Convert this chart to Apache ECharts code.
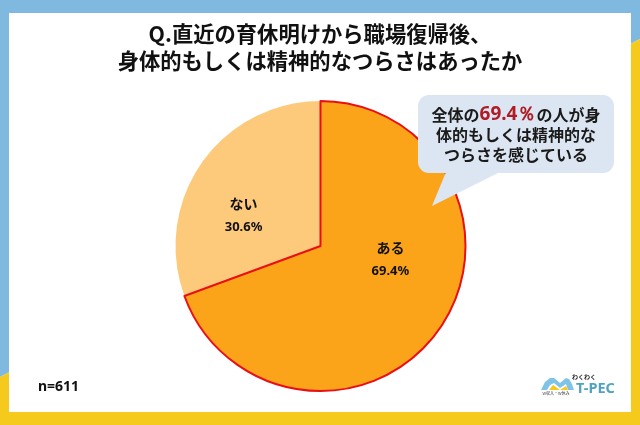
<!DOCTYPE html>
<html>
<head>
<meta charset="utf-8">
<style>html,body{margin:0;padding:0;background:#fff}#main{width:640px;height:425px}</style>
<script src="https://cdn.jsdelivr.net/npm/echarts@6/dist/echarts.min.js"></script>
</head>
<body>
<div id="main"></div>
<script>
// ない is listed first so the red outline of ある stays on top
var categories = ['ない', 'ある'];
var values = [30.6, 69.4];
var sliceColors = ['#FDC97A', '#FBA41A'];
var titleText = 'Q.直近の育休明けから職場復帰後、\n身体的もしくは精神的なつらさはあったか';

var jpFont = '"Noto Sans CJK JP", sans-serif';
var myChart = echarts.init(document.getElementById('main'));

var option = {
    animation: false,
    backgroundColor: '#fff',
    graphic: [
        // frame
        {type: 'polygon', z: 0, shape: {points: [[0, 0], [640, 0], [640, 39], [0, 377]]}, style: {fill: '#7FB9E0'}},
        {type: 'polygon', z: 0, shape: {points: [[640, 39], [640, 425], [0, 425], [0, 377]]}, style: {fill: '#F5CA1C'}},
        {type: 'rect', z: 1, shape: {x: 9, y: 13, width: 622, height: 399}, style: {fill: '#fff'}},
        // callout
        {type: 'rect', z: 10, shape: {x: 418, y: 95, width: 196, height: 78, r: 11}, style: {fill: '#DCE6F2'}},
        {type: 'polygon', z: 10, shape: {points: [[446, 172], [432, 206], [500, 172]]}, style: {fill: '#DCE6F2'}},
        {type: 'text', z: 11, style: {
            x: 516, y: 115, align: 'center', verticalAlign: 'middle',
            text: '{b|全体の}{r|69.4％}{b|の人が身}',
            rich: {
                b: {font: 'bold 16px ' + jpFont, fill: '#1a1a1a'},
                r: {font: 'bold 19px "Noto Sans", sans-serif', fill: '#B01C26'}
            }
        }},
        {type: 'text', z: 11, style: {x: 516, y: 135, align: 'center', verticalAlign: 'middle', text: '体的もしくは精神的な', font: 'bold 16px ' + jpFont, fill: '#1a1a1a'}},
        {type: 'text', z: 11, style: {x: 516, y: 155, align: 'center', verticalAlign: 'middle', text: 'つらさを感じている', font: 'bold 16px ' + jpFont, fill: '#1a1a1a'}},
        {type: 'text', z: 11, style: {x: 38, y: 387, align: 'left', verticalAlign: 'middle', text: 'n=611', font: 'bold 14px "Noto Sans", sans-serif', fill: '#111'}},
        // logo
        {type: 'polygon', z: 5, shape: {points: [[541, 390], [545, 382], [550, 378], [554, 378], [560, 383], [566, 378], [569, 379], [572, 384], [574, 390], [568, 390], [566, 384], [560, 388], [554, 383], [550, 385], [547, 390]]}, style: {fill: '#7FC3E8'}},
        {type: 'polygon', z: 6, shape: {points: [[549, 390], [553, 385], [560, 390], [566, 386], [568, 390]]}, style: {fill: '#F5CA1C'}},
        {type: 'text', z: 6, style: {x: 556, y: 393, align: 'center', verticalAlign: 'middle', text: 'W収入・W休み', font: '4px ' + jpFont, fill: '#333'}},
        {type: 'text', z: 6, style: {x: 572, y: 377, align: 'left', verticalAlign: 'middle', text: 'わくわく', font: 'bold 6px ' + jpFont, fill: '#222'}},
        {type: 'text', z: 6, style: {x: 576, y: 389, align: 'left', verticalAlign: 'middle', text: 'T-PEC', font: 'bold 14.5px "Noto Sans", sans-serif', fill: '#4FA3BE'}}
    ],
    title: {
        text: titleText,
        left: 315,
        top: 15,
        textAlign: 'center',
        textStyle: {
            fontFamily: jpFont,
            fontSize: 21.3,
            fontWeight: 'bold',
            lineHeight: 27,
            color: '#111'
        }
    },
    series: [
        {
            type: 'pie',
            z: 3,
            center: [320.5, 246],
            radius: [0, 145],
            startAngle: 90 + values[0] * 3.6,
            clockwise: true,
            silent: true,
            data: categories.map(function (name, i) {
                return {
                    name: name,
                    value: values[i],
                    itemStyle: {
                        color: sliceColors[i],
                        borderColor: name === 'ある' ? '#EA0F16' : 'transparent',
                        borderWidth: name === 'ある' ? 2 : 0
                    },
                    label: {offset: name === 'ある' ? [8, -30] : [-15, 13]}
                };
            }),
            label: {
                position: 'inside',
                formatter: '{n|{b}}\n{p|{c}%}',
                rich: {
                    n: {fontFamily: jpFont, fontSize: 14, fontWeight: 'bold', color: '#111', lineHeight: 24},
                    p: {fontFamily: '"Noto Sans", sans-serif', fontSize: 13, fontWeight: 'bold', color: '#111', lineHeight: 24}
                }
            },
            labelLine: {show: false}
        }
    ]
};

myChart.setOption(option, true);
</script>
</body>
</html>
